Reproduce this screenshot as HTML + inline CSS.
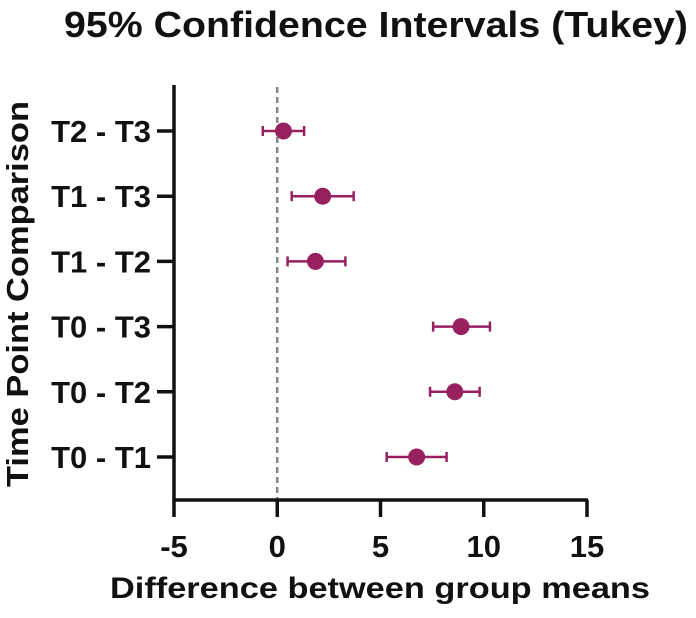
<!DOCTYPE html>
<html><head><meta charset="utf-8"><style>
body{margin:0;background:#fff;}
svg text{font-family:"Liberation Sans",Arial,sans-serif;font-weight:bold;fill:#111;}
</style></head><body>
<svg id="chart" width="696" height="613" viewBox="0 0 696 613" xmlns="http://www.w3.org/2000/svg">
<text x="376" y="37" font-size="36" text-anchor="middle" textLength="624" lengthAdjust="spacingAndGlyphs">95% Confidence Intervals (Tukey)</text>
<text transform="translate(28,294) rotate(-90)" font-size="31" text-anchor="middle" textLength="386" lengthAdjust="spacingAndGlyphs">Time Point Comparison</text>
<text x="380" y="598" font-size="30" text-anchor="middle" textLength="540" lengthAdjust="spacingAndGlyphs">Difference between group means</text>
<g id="plot"></g>
</svg>
<script>
const categories = ["T2 - T3","T1 - T3","T1 - T2","T0 - T3","T0 - T2","T0 - T1"];
const means = [0.3, 2.2, 1.85, 8.9, 8.6, 6.75];
const lower = [-0.7, 0.7, 0.5, 7.55, 7.4, 5.3];
const upper = [1.3, 3.7, 3.3, 10.3, 9.8, 8.2];
const xTicks = [-5, 0, 5, 10, 15];

const NS = "http://www.w3.org/2000/svg";
const g = document.getElementById("plot");
const x = v => 174 + (v + 5) * (587 - 174) / 20;
const y = i => 131 + i * 65.2;
function mk(tag, attrs){const e=document.createElementNS(NS,tag);for(const k in attrs)e.setAttribute(k,attrs[k]);g.appendChild(e);return e;}

let e = mk("line",{x1:x(0),x2:x(0),y1:87,y2:500,stroke:"#888","stroke-width":2.5,"stroke-dasharray":"6,4"});


e = mk("line",{x1:174,x2:174,y1:85,y2:501.5,stroke:"#111","stroke-width":3.5});


e = mk("line",{x1:172.5,x2:588,y1:500,y2:500,stroke:"#111","stroke-width":3.5});



xTicks.forEach(t=>{
  let l = mk("line",{x1:x(t),x2:x(t),y1:500,y2:517,stroke:"#111","stroke-width":3.5});
  
  
  let tx = mk("text",{x:x(t),y:557,"font-size":31,"text-anchor":"middle"});
  tx.textContent = t;
  
  
});

categories.forEach((c,i)=>{
  const yy = y(i);
  let l = mk("line",{x1:157,x2:174,y1:yy,y2:yy,stroke:"#111","stroke-width":3.5});
  
  
  let tx = mk("text",{x:151,y:yy+11,"font-size":31,"text-anchor":"end"});
  tx.textContent = c;
  
  
  const col = "#97215e";
  let b = mk("line",{x1:x(lower[i]),x2:x(upper[i]),y1:yy,y2:yy,stroke:col,"stroke-width":2.5});
  
  
  [lower[i],upper[i]].forEach(v=>{
    let cp = mk("line",{x1:x(v),x2:x(v),y1:yy-5,y2:yy+5,stroke:col,"stroke-width":2.5});
    
    
  });
  let p = mk("circle",{cx:x(means[i]),cy:yy,r:8.5,fill:col});
  
  
});
</script>
</body></html>
